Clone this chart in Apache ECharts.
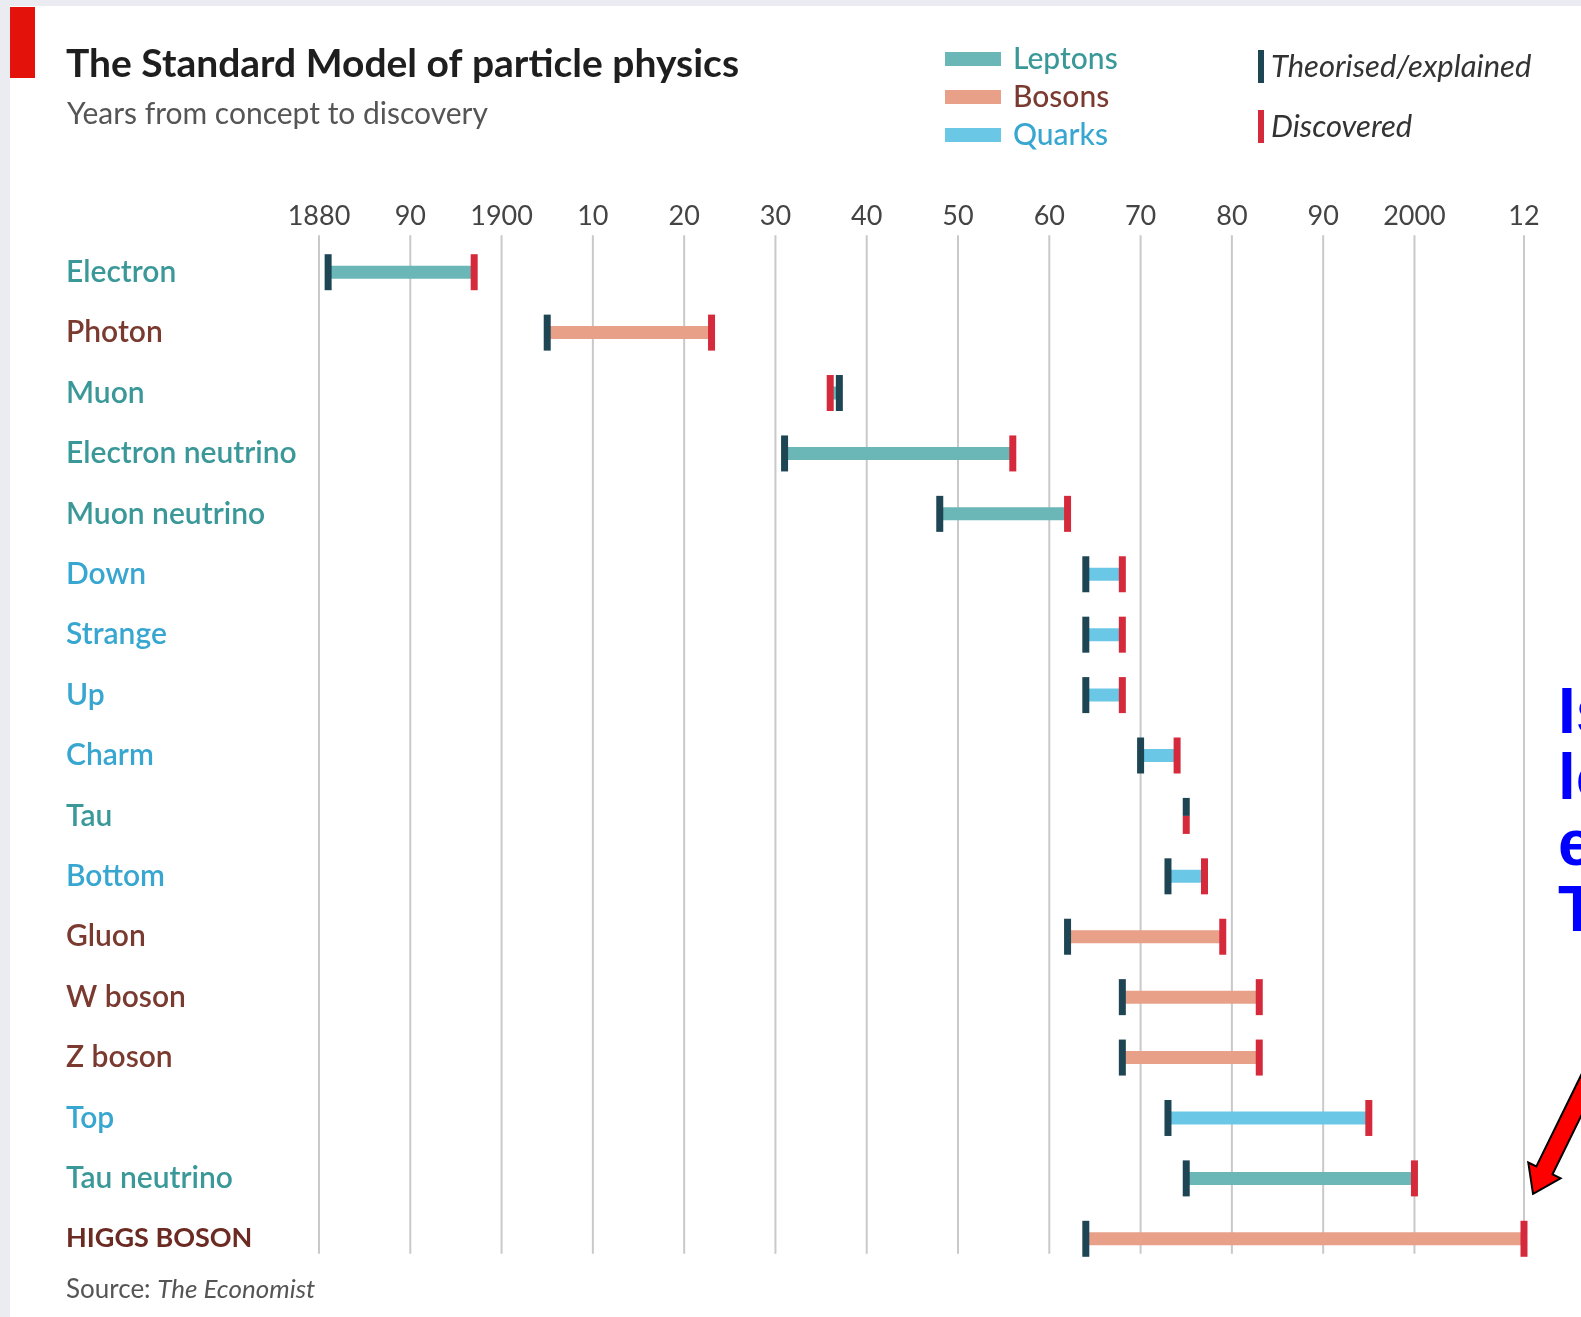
<!DOCTYPE html>
<html>
<head>
<meta charset="utf-8">
<title>The Standard Model of particle physics</title>
<script src="https://cdn.jsdelivr.net/npm/echarts@6/dist/echarts.min.js"></script>
<style>
  html, body { margin: 0; padding: 0; background: #ffffff; }
  #chart { width: 1581px; height: 1317px; }
</style>
</head>
<body>
<div id="chart"></div>
<script>
// Particles, top to bottom
const particles = ['Electron', 'Photon', 'Muon', 'Electron neutrino', 'Muon neutrino',
  'Down', 'Strange', 'Up', 'Charm', 'Tau', 'Bottom', 'Gluon', 'W boson', 'Z boson',
  'Top', 'Tau neutrino', 'HIGGS BOSON'];
const families = ['Leptons', 'Bosons', 'Leptons', 'Leptons', 'Leptons',
  'Quarks', 'Quarks', 'Quarks', 'Quarks', 'Leptons', 'Quarks', 'Bosons', 'Bosons', 'Bosons',
  'Quarks', 'Leptons', 'Bosons'];
// Year each particle was theorised/explained, and year it was discovered
const theorised = [1881, 1905, 1937, 1931, 1948, 1964, 1964, 1964, 1970, 1975, 1973, 1962, 1968, 1968, 1973, 1975, 1964];
const discovered = [1897, 1923, 1936, 1956, 1962, 1968, 1968, 1968, 1974, 1975, 1977, 1979, 1983, 1983, 1995, 2000, 2012];

const familyNames = ['Leptons', 'Bosons', 'Quarks'];
const tickYears = [1880, 1890, 1900, 1910, 1920, 1930, 1940, 1950, 1960, 1970, 1980, 1990, 2000, 2012];
const tickLabels = ['1880', '90', '1900', '10', '20', '30', '40', '50', '60', '70', '80', '90', '2000', '12'];

const FONT = 'Lato, "Noto Sans", sans-serif';
const barColors = { Leptons: '#6bb6b7', Bosons: '#e9a089', Quarks: '#6ac7e6' };
const labelColors = { Leptons: '#3a9899', Bosons: '#7a3a30', Quarks: '#37a6d0' };
const theoColor = '#1d4553';
const discColor = '#d52a3b';

const chart = echarts.init(document.getElementById('chart'), null, { renderer: 'canvas' });

// One span series per particle family
function spanSeries(fam) {
  const data = [];
  particles.forEach((p, i) => {
    if (families[i] === fam) data.push([theorised[i], discovered[i], i]);
  });
  return {
    name: fam,
    type: 'custom',
    z: 3,
    itemStyle: { color: barColors[fam] },
    encode: { x: [0, 1], y: 2 },
    data: data,
    renderItem: function (params, api) {
      const a = api.coord([api.value(0), api.value(2)]);
      const b = api.coord([api.value(1), api.value(2)]);
      const x0 = Math.min(a[0], b[0]);
      const x1 = Math.max(a[0], b[0]);
      return {
        type: 'rect',
        shape: { x: x0, y: a[1] - 6.5, width: x1 - x0, height: 13 },
        style: { fill: barColors[fam] }
      };
    }
  };
}

// End markers; when both years coincide each marker takes half the height
function markerSeries(name, years, others, color, half, z) {
  return {
    name: name,
    type: 'custom',
    z: z,
    itemStyle: { color: color },
    encode: { x: 0, y: 1 },
    data: years.map((y, i) => [y, i, others[i]]),
    renderItem: function (params, api) {
      const c = api.coord([api.value(0), api.value(1)]);
      const same = api.value(0) === api.value(2);
      let top = c[1] - 18;
      let h = 36;
      if (same) {
        h = 18;
        if (half === 'bottom') top = c[1];
      }
      return {
        type: 'rect',
        shape: { x: c[0] - 3.5, y: top, width: 7, height: h },
        style: { fill: color }
      };
    }
  };
}

// Vertical year rules
const gridRules = {
  name: 'rules',
  type: 'custom',
  z: 1,
  silent: true,
  encode: { x: 0 },
  data: tickYears.map(y => [y]),
  renderItem: function (params, api) {
    const t = api.coord([api.value(0), 0]);
    const b = api.coord([api.value(0), particles.length - 1]);
    return {
      type: 'line',
      shape: { x1: t[0], y1: t[1] - 37, x2: t[0], y2: b[1] + 15 },
      style: { stroke: '#c9c9c9', lineWidth: 2 }
    };
  }
};

// Left-aligned category labels: fixed-width rich boxes, one style per family
const labelBox = { width: 250, align: 'left', fontFamily: FONT, fontSize: 30, fontWeight: 600 };
const labelRich = {
  Leptons: Object.assign({}, labelBox, { color: labelColors.Leptons }),
  Bosons: Object.assign({}, labelBox, { color: labelColors.Bosons }),
  Quarks: Object.assign({}, labelBox, { color: labelColors.Quarks }),
  Higgs: Object.assign({}, labelBox, { color: '#6b2a22', fontWeight: 'bold', fontSize: 27 })
};

const option = {
  backgroundColor: '#ffffff',
  animation: false,
  title: [
    {
      text: 'The Standard Model of particle physics',
      left: 66, top: 45, padding: 0,
      textStyle: { fontFamily: FONT, fontSize: 39, fontWeight: 'bold', color: '#1e1e1e' }
    },
    {
      text: 'Years from concept to discovery',
      left: 67, top: 99, padding: 0,
      textStyle: { fontFamily: FONT, fontSize: 30, fontWeight: 'normal', color: '#555555' }
    },
    {
      text: 'Source: {i|The Economist}',
      left: 66, top: 1277, padding: 0,
      textStyle: {
        fontFamily: FONT, fontSize: 26, fontWeight: 'normal', color: '#555555',
        rich: { i: { fontFamily: FONT, fontSize: 26, fontStyle: 'italic', color: '#555555' } }
      }
    }
  ],
  legend: [
    {
      orient: 'vertical', left: 940, top: 39,
      itemWidth: 56, itemHeight: 14, itemGap: 8, icon: 'rect',
      selectedMode: false,
      data: familyNames.map(f => ({ name: f, textStyle: { color: labelColors[f] } })),
      textStyle: { fontFamily: FONT, fontSize: 30, fontWeight: 500, lineHeight: 30, padding: [0, 0, 0, 7] }
    },
    {
      orient: 'vertical', left: 1253, top: 45,
      itemWidth: 6, itemHeight: 33, itemGap: 27, icon: 'rect',
      selectedMode: false,
      data: ['Theorised/explained', 'Discovered'],
      textStyle: { fontFamily: FONT, fontSize: 31, fontStyle: 'italic', color: '#333333', padding: [0, 0, 0, 2] }
    }
  ],
  grid: { left: 319, right: 57, top: 242, height: 1027, containLabel: false, outerBoundsMode: 'none' },
  xAxis: {
    type: 'value',
    position: 'top',
    min: 1880,
    max: 2012,
    axisLine: { show: false },
    axisTick: { show: false },
    splitLine: { show: false },
    axisLabel: {
      customValues: tickYears,
      formatter: v => tickLabels[tickYears.indexOf(v)],
      fontFamily: FONT, fontSize: 27, color: '#444444', margin: 12
    }
  },
  yAxis: {
    type: 'category',
    inverse: true,
    data: particles,
    axisLine: { show: false },
    axisTick: { show: false },
    splitLine: { show: false },
    axisLabel: {
      margin: 3,
      formatter: function (value, index) {
        const key = index === particles.length - 1 ? 'Higgs' : families[index];
        return '{' + key + '|' + value + '}';
      },
      rich: labelRich
    }
  },
  series: [
    gridRules,
    spanSeries('Leptons'),
    spanSeries('Bosons'),
    spanSeries('Quarks'),
    markerSeries('Theorised/explained', theorised, discovered, theoColor, 'top', 4),
    markerSeries('Discovered', discovered, theorised, discColor, 'bottom', 5)
  ],
  graphic: [
    { type: 'rect', silent: true, shape: { x: 0, y: 0, width: 1581, height: 6 }, style: { fill: '#ebebf2' }, z: 0 },
    { type: 'rect', silent: true, shape: { x: 0, y: 0, width: 10, height: 1317 }, style: { fill: '#ebebf2' }, z: 0 },
    { type: 'rect', silent: true, shape: { x: 10, y: 7, width: 25, height: 71 }, style: { fill: '#e3120b' }, z: 10 },
    {
      type: 'text', silent: true, left: 1558, top: 682, z: 10,
      style: {
        text: 'Is\nlo\ne\nT',
        font: 'bold 64px "Liberation Sans", Arial, sans-serif',
        lineHeight: 66,
        fill: '#0000ff'
      }
    }
  ]
};

chart.setOption(option);

// Arrow pointing at the Higgs discovery year
(function () {
  const last = particles.length - 1;
  const p = chart.convertToPixel({ gridIndex: 0 }, [discovered[last], last]);
  const tip = [p[0] + 9, p[1] - 45];
  const u = [0.44, -0.898];
  const n = [0.898, 0.44];
  const headLen = 26, headHalf = 18, shaftHalf = 9, len = 220;
  const pt = (a, b) => [tip[0] + u[0] * a + n[0] * b, tip[1] + u[1] * a + n[1] * b];
  const pts = [
    pt(0, 0), pt(headLen, headHalf), pt(headLen, shaftHalf), pt(len, shaftHalf),
    pt(len, -shaftHalf), pt(headLen, -shaftHalf), pt(headLen, -headHalf)
  ];
  chart.setOption({
    graphic: [{
      id: 'arrow', type: 'polygon', silent: true, z: 20,
      shape: { points: pts },
      style: { fill: '#ff0000', stroke: '#000000', lineWidth: 2, lineJoin: 'miter' }
    }]
  });
})();
</script>
</body>
</html>
